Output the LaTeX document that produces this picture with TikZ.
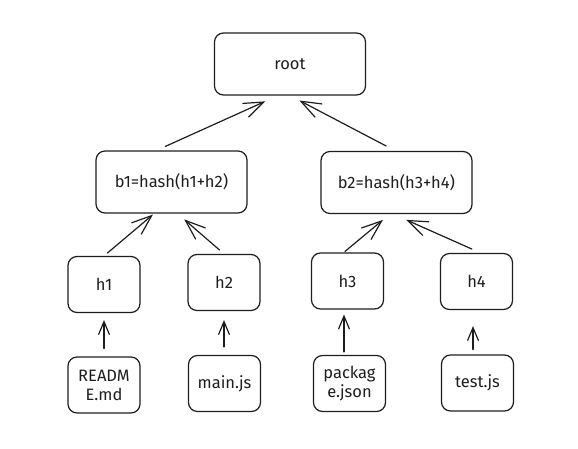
\documentclass[tikz,border=0pt]{standalone}
\usepackage{fontspec}
\setmainfont{Fira Sans}
\usetikzlibrary{arrows.meta}
\definecolor{ink}{HTML}{1E1E1E}

\begin{document}
\begin{tikzpicture}[x=1pt,y=-1pt,->,>={Straight Barb[length=20pt,width=15pt]},line width=1.2pt,line cap=round,
  hash node/.style={draw=ink,rounded corners=9pt,minimum width=151pt,minimum height=62pt,inner sep=0pt,align=center,text=ink,font=\fontsize{16.5}{19}\selectfont},
  leaf node/.style={hash node,minimum width=72pt,minimum height=56pt},
  file edge/.style={>={Straight Barb[length=13pt,width=11pt]}}]
  \fill[white,-] (0,0) rectangle (578,449);
  \useasboundingbox (0,0) rectangle (578,449);

  \node[hash node] (root) at (290,64) {root};
  \node[hash node] (b1) at (171.5,182) {b1=hash(h1+h2)};
  \node[hash node] (b2) at (396.5,182.5) {b2=hash(h3+h4)};
  \node[leaf node] (h1) at (104,284.5) {h1};
  \node[leaf node] (h2) at (224,282.5) {h2};
  \node[leaf node] (h3) at (347.5,281) {h3};
  \node[leaf node] (h4) at (476.5,281.5) {h4};
  \node[leaf node] (f1) at (104,385) {READM\\E.md};
  \node[leaf node] (f2) at (224.5,383.5) {main.js};
  \node[leaf node] (f3) at (349.5,383.5) {packag\\e.json};
  \node[leaf node] (f4) at (477.5,383) {test.js};

\path[color=ink]
  ([xshift=-15pt]b1.north) edge[shorten <=9.6pt,shorten >=14pt] ([xshift=-12pt]root.south)
  ([xshift=-1pt]b2.north) edge[shorten <=10.6pt,shorten >=10.6pt] (root.south)
  (h1.north) edge[shorten <=4.5pt,shorten >=1.5pt] ([xshift=-17.4pt]b1.south)
  (h2.north) edge[shorten <=5.9pt,shorten >=8.9pt] ([xshift=6pt]b1.south)
  ([xshift=-3.7pt]h3.north) edge[shorten <=1.5pt,shorten >=9.1pt] ([xshift=-6.6pt]b2.south)
  ([xshift=4pt]h4.north) edge[shorten <=9.4pt,shorten >=14.1pt] ([xshift=-3.3pt]b2.south)
;
\path[color=ink,file edge]
  (f1.north) edge[shorten <=8pt,shorten >=7pt] (h1.south)
  ([xshift=-0.5pt]f2.north) edge[shorten <=8pt,shorten >=9pt] (h2.south)
  ([xshift=-5.5pt]f3.north) edge[shorten <=3pt,shorten >=5pt] ([xshift=-3.5pt]h3.south)
  ([xshift=-4.5pt]f4.north) edge[shorten <=5pt,shorten >=16pt] ([xshift=-3.5pt]h4.south)
;
\end{tikzpicture}
\end{document}
